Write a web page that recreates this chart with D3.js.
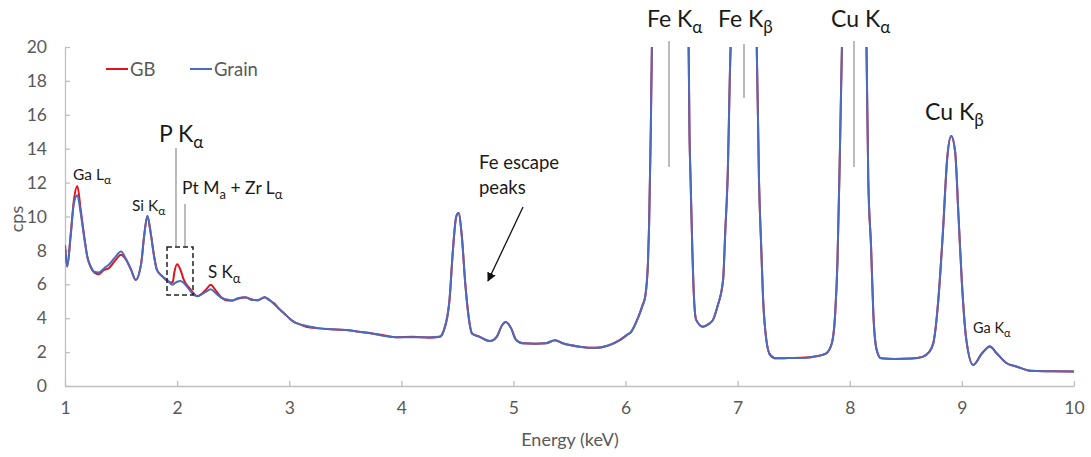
<!DOCTYPE html>
<html>
<head>
<meta charset="utf-8">
<script src="https://cdn.jsdelivr.net/npm/d3@7"></script>
<style>
  html, body { margin: 0; padding: 0; background: #fff; }
  svg { display: block; font-family: Lato, "Open Sans", sans-serif; }
</style>
</head>
<body>
<svg id="chart" width="1091" height="457"></svg>
<script>
// ---- data ----
const energy = [1.00,1.02,1.05,1.08,1.11,1.14,1.17,1.20,1.23,1.26,1.30,1.35,1.39,1.44,1.50,1.54,1.59,1.63,1.68,1.705,1.735,1.765,1.795,1.82,1.87,1.91,1.96,1.975,2.00,2.03,2.06,2.11,2.15,2.18,2.23,2.26,2.30,2.345,2.40,2.45,2.49,2.54,2.61,2.67,2.72,2.78,2.82,2.87,2.91,2.96,3.00,3.05,3.09,3.15,3.27,3.40,3.51,3.62,3.74,3.85,3.95,4.10,4.25,4.34,4.38,4.43,4.46,4.49,4.51,4.54,4.57,4.60,4.63,4.70,4.79,4.85,4.90,4.93,4.98,5.02,5.08,5.20,5.29,5.37,5.44,5.59,5.74,5.85,5.95,6.01,6.05,6.11,6.15,6.176,6.20,6.21,6.225,6.235,6.40,6.5625,6.57,6.58,6.595,6.61,6.63,6.69,6.74,6.78,6.82,6.87,6.89,6.91,6.9375,7.06,7.17,7.19,7.21,7.226,7.256,7.29,7.345,7.45,7.60,7.70,7.79,7.84,7.87,7.89,7.91,7.93,8.04,8.149,8.165,8.19,8.21,8.24,8.28,8.40,8.55,8.65,8.70,8.744,8.79,8.83,8.87,8.905,8.94,8.97,9.00,9.04,9.10,9.18,9.25,9.31,9.40,9.49,9.61,9.80,10.00];
const grain  = [8.3,7.05,8.8,10.8,11.25,10.2,8.8,7.6,7.05,6.75,6.7,6.95,7.15,7.54,7.93,7.54,6.85,6.26,7.25,8.8,10.05,9.0,7.64,6.85,6.46,6.26,5.97,6.05,6.15,6.2,6.07,5.67,5.37,5.3,5.45,5.57,5.71,5.47,5.18,5.1,5.04,5.18,5.24,5.08,5.08,5.24,5.1,4.8,4.55,4.25,4.0,3.75,3.65,3.55,3.4,3.35,3.3,3.2,3.1,2.95,2.88,2.88,2.88,2.9,3.3,5.1,8.0,10.0,10.2,8.8,6.07,4.1,3.1,2.9,2.65,2.9,3.6,3.78,3.4,2.75,2.52,2.5,2.52,2.7,2.52,2.32,2.25,2.4,2.7,3.0,3.2,4.0,4.7,5.3,7.3,9.5,15,20,45,20,15,12.2,8.2,5.27,3.9,3.5,3.65,3.9,4.7,6.26,9.2,12.2,20,30,20,12.2,8.2,5.27,2.7,1.83,1.63,1.65,1.65,1.75,1.93,2.52,4.3,7.3,13.2,20,40,20,12.2,8.2,4.3,2.13,1.63,1.6,1.62,1.72,1.95,2.5,5.1,9.0,13.5,14.75,13.8,10.0,6.1,2.7,1.24,1.93,2.32,1.93,1.34,1.14,0.9,0.87,0.85];
const gb     = [8.3,7.05,8.9,11.0,11.8,10.4,8.9,7.6,7.0,6.7,6.6,6.85,6.95,7.34,7.74,7.5,6.85,6.26,7.25,8.8,10.0,9.0,7.64,6.85,6.46,6.2,6.1,6.7,7.18,6.85,6.26,5.77,5.45,5.3,5.5,5.7,5.97,5.63,5.2,5.05,5.04,5.15,5.22,5.1,5.05,5.24,5.08,4.85,4.55,4.25,4.0,3.75,3.65,3.5,3.4,3.33,3.3,3.2,3.1,2.98,2.88,2.9,2.85,2.9,3.3,5.1,8.0,10.0,10.2,8.8,6.07,4.1,3.1,2.9,2.65,2.9,3.6,3.78,3.4,2.75,2.52,2.5,2.52,2.7,2.52,2.32,2.25,2.4,2.72,3.0,3.2,4.0,4.75,5.3,7.3,9.5,15,20,45,20,15,12.2,8.2,5.27,3.9,3.5,3.65,3.9,4.7,6.26,9.2,12.2,20,30,20,12.2,8.2,5.27,2.7,1.83,1.63,1.65,1.68,1.75,1.93,2.52,4.3,7.3,13.2,20,40,20,12.2,8.2,4.3,2.13,1.63,1.6,1.62,1.72,1.95,2.5,5.1,9.0,13.5,14.75,13.8,10.0,6.1,2.7,1.24,1.93,2.35,1.93,1.34,1.14,0.9,0.87,0.85];
const xTicks = [1,2,3,4,5,6,7,8,9,10];
const yTicks = [0,2,4,6,8,10,12,14,16,18,20];
const seriesNames = ["GB","Grain"];
const seriesColors = ["#e3121b","#4a6cc0"];

// ---- layout ----
const svg = d3.select("#chart");
const L = 65, R = 1074, T = 47, B = 386;
const x = d3.scaleLinear().domain([1,10]).range([L,R]);
const y = d3.scaleLinear().domain([0,20]).range([B,T]);
const axisColor = "#bfbfbf", tickText = "#595959";

// clip
svg.append("defs").append("clipPath").attr("id","plotclip")
  .append("rect").attr("x",L).attr("y",T).attr("width",R-L).attr("height",B-T);

// axes
const xAxis = svg.append("g").attr("transform",`translate(0,${B})`)
  .call(d3.axisBottom(x).tickValues(xTicks).tickSizeInner(-5).tickSizeOuter(0).tickPadding(14).tickFormat(d3.format("d")));
const yAxis = svg.append("g").attr("transform",`translate(${L},0)`)
  .call(d3.axisLeft(y).tickValues(yTicks).tickSizeInner(-5).tickSizeOuter(0).tickPadding(18).tickFormat(d3.format("d")));
[xAxis,yAxis].forEach(g=>{
  g.select(".domain").attr("stroke",axisColor).attr("stroke-width",1.3);
  g.selectAll(".tick line").attr("stroke",axisColor).attr("stroke-width",1.3);
  g.selectAll(".tick text").attr("fill",tickText).attr("font-size",17.5).attr("font-family","Lato, sans-serif");
});
xAxis.selectAll(".tick text").attr("dy","0.8em");

// axis titles
svg.append("text").attr("x",570).attr("y",446).attr("text-anchor","middle")
  .attr("fill",tickText).attr("font-size",18).text("Energy (keV)");
svg.append("text").attr("transform","translate(23,219) rotate(-90)").attr("text-anchor","middle")
  .attr("fill",tickText).attr("font-size",18).text("cps");

// lines
const line = d3.line().x((d,i)=>x(energy[i])).y(d=>y(d)).curve(d3.curveMonotoneX);
const plot = svg.append("g").attr("clip-path","url(#plotclip)");
[gb, grain].forEach((vals,k)=>{
  plot.append("path").datum(vals).attr("d",line)
    .attr("fill","none").attr("stroke",seriesColors[k]).attr("stroke-width",2).attr("stroke-linejoin","round");
});

// legend
const lg = svg.append("g");
[[106,130],[190,214]].forEach((p,k)=>{
  lg.append("line").attr("x1",p[0]).attr("x2",p[0]+22).attr("y1",69).attr("y2",69)
    .attr("stroke",seriesColors[k]).attr("stroke-width",2);
  lg.append("text").attr("x",p[1]).attr("y",75.5).attr("fill",tickText).attr("font-size",18.5).text(seriesNames[k]);
});

// annotations helper: main text + subscript
function label(xp, yp, main, sub, size, subSize, color) {
  const t = svg.append("text").attr("x",xp).attr("y",yp).attr("font-size",size).attr("fill",color||"#1a1a1a");
  t.append("tspan").text(main);
  if (sub) t.append("tspan").attr("font-size",subSize).attr("dy",size*0.28).text(sub);
  return t;
}
function grayLine(x1,y1,x2,y2){
  svg.append("line").attr("x1",x1).attr("y1",y1).attr("x2",x2).attr("y2",y2)
    .attr("stroke","#a6a6a6").attr("stroke-width",1.5);
}

label(73,180,"Ga L","α",15.5,12);
label(132,211,"Si K","α",15.5,12);
label(159,142,"P K","α",23,17);
const pt = svg.append("text").attr("x",182).attr("y",194).attr("font-size",17.5).attr("fill","#1a1a1a");
pt.append("tspan").text("Pt M");
pt.append("tspan").attr("font-size",13).attr("dy",4.5).text("a");
pt.append("tspan").attr("dy",-4.5).text(" + Zr L");
pt.append("tspan").attr("font-size",13).attr("dy",4.5).text("α");
label(208,278,"S K","α",17,13);
label(647,27,"Fe K","α",23,17);
label(718,27,"Fe K","β",23,17);
label(831,27,"Cu K","α",23,17);
label(925,120,"Cu K","β",23,17);
label(973,333,"Ga K","α",14.5,11);

grayLine(176,148,176,247);
grayLine(185,204,185,247);
grayLine(669,41,669,167);
grayLine(744,44,744,98);
grayLine(854,41,854,167);

// dashed box
svg.append("rect").attr("x",167).attr("y",247).attr("width",26).attr("height",48)
  .attr("fill","none").attr("stroke","#222").attr("stroke-width",1.5).attr("stroke-dasharray","5,3");

// Fe escape peaks
const fe = svg.append("text").attr("x",479).attr("y",169).attr("font-size",18.5).attr("fill","#1a1a1a");
fe.append("tspan").attr("x",479).text("Fe escape");
fe.append("tspan").attr("x",479).attr("dy",25).text("peaks");
svg.append("defs").append("marker").attr("id","arr").attr("viewBox","0 0 10 10").attr("refX",9).attr("refY",5)
  .attr("markerWidth",7).attr("markerHeight",7).attr("orient","auto")
  .append("path").attr("d","M0,0 L10,5 L0,10 z").attr("fill","#111");
svg.append("line").attr("x1",523).attr("y1",207).attr("x2",488).attr("y2",281)
  .attr("stroke","#111").attr("stroke-width",1.3).attr("marker-end","url(#arr)");
</script>
</body>
</html>
